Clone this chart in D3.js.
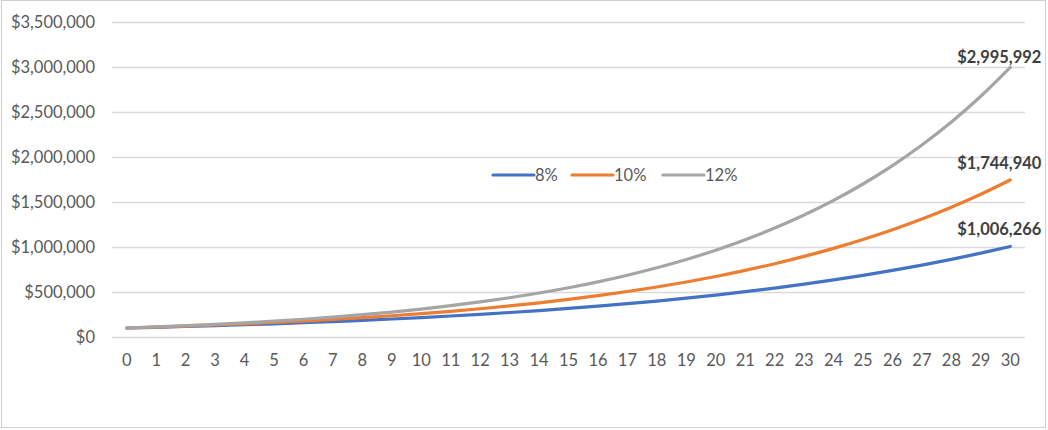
<!DOCTYPE html>
<html>
<head>
<meta charset="utf-8">
<script src="https://cdn.jsdelivr.net/npm/d3@7"></script>
<style>
  body { margin: 0; background: #fff; }
  svg { display: block; font-family: Lato, "Open Sans", sans-serif; }
</style>
</head>
<body>
<svg id="chart" width="1048" height="430"></svg>
<script>
// years on the category axis
var years = d3.range(0, 31);

// portfolio value per year
var growth8 = [100000, 108000, 116640, 125971, 136049, 146933, 158687, 171382, 185093, 199900,
  215892, 233164, 251817, 271962, 293719, 317217, 342594, 370002, 399602, 431570,
  466096, 503383, 543654, 587146, 634118, 684848, 739635, 798806, 862711, 931727, 1006266];
var growth10 = [100000, 110000, 121000, 133100, 146410, 161051, 177156, 194872, 214359, 235795,
  259374, 285312, 313843, 345227, 379750, 417725, 459497, 505447, 555992, 611591,
  672750, 740025, 814027, 895430, 984973, 1083471, 1191818, 1310999, 1442099, 1586309, 1744940];
var growth12 = [100000, 112000, 125440, 140493, 157352, 176234, 197382, 221068, 247596, 277308,
  310585, 347855, 389598, 436349, 488711, 547357, 613039, 686604, 768997, 861276,
  964629, 1080385, 1210031, 1355235, 1517863, 1700006, 1904007, 2132488, 2388387, 2674993, 2995992];

var seriesNames = ["8%", "10%", "12%"];
var seriesColors = ["#4472C4", "#ED7D31", "#A5A5A5"];
var yTicks = [0, 500000, 1000000, 1500000, 2000000, 2500000, 3000000, 3500000];

var series = [growth8, growth10, growth12].map(function(v, i) {
    return {name: seriesNames[i], color: seriesColors[i], values: v};
});

var svg = d3.select("#chart");
var W = 1048, H = 430;
var fontSize = "16.5px";

// outer chart border
svg.append("rect")
  .attr("x", 1.5).attr("y", 0.5)
  .attr("width", W - 4).attr("height", H - 3)
  .attr("fill", "#fff")
  .attr("stroke", "#D0D0D0");

var plot = {left: 112, right: 1025, top: 22, bottom: 337};

var x = d3.scaleBand()
  .domain(years)
  .range([plot.left, plot.right]);

var y = d3.scaleLinear()
  .domain([0, 3500000])
  .range([plot.bottom, plot.top]);

var fmt = d3.format("$,.0f");

// gridlines
svg.append("g").selectAll("line")
  .data(yTicks)
  .enter().append("line")
  .attr("x1", plot.left).attr("x2", plot.right)
  .attr("y1", function(d) { return Math.round(y(d)) + 0.5; })
  .attr("y2", function(d) { return Math.round(y(d)) + 0.5; })
  .attr("stroke", "#D9D9D9")
  .attr("stroke-width", 1.5);

// y axis labels
var yAxis = d3.axisLeft(y).tickValues(yTicks).tickFormat(fmt).tickSize(0).tickPadding(17);
var gy = svg.append("g")
  .attr("transform", "translate(" + plot.left + ",0)")
  .call(yAxis);
gy.select(".domain").remove();
gy.selectAll("text")
  .attr("fill", "#595959")
  .style("font-family", "Lato, sans-serif")
  .style("font-size", fontSize);

// x axis labels
var xAxis = d3.axisBottom(x).tickSize(0).tickPadding(17);
var gx = svg.append("g")
  .attr("transform", "translate(0," + plot.bottom + ")")
  .call(xAxis);
gx.select(".domain").remove();
gx.selectAll("text")
  .attr("fill", "#595959")
  .style("font-family", "Lato, sans-serif")
  .style("font-size", fontSize);

var line = d3.line()
  .x(function(d, i) { return x(years[i]) + x.bandwidth() / 2; })
  .y(function(d) { return y(d); })
  .curve(d3.curveMonotoneX);

svg.append("g").selectAll("path")
  .data(series)
  .enter().append("path")
  .attr("d", function(d) { return line(d.values); })
  .attr("fill", "none")
  .attr("stroke", function(d) { return d.color; })
  .attr("stroke-width", 3.2)
  .attr("stroke-linecap", "round");

// end labels
var last = years.length - 1;
svg.append("g").selectAll("text")
  .data(series)
  .enter().append("text")
  .attr("x", x(years[last]) + x.bandwidth() / 2 - 11)
  .attr("y", function(d) { return Math.max(y(d.values[last]) - 11, 63); })
  .attr("text-anchor", "middle")
  .attr("fill", "#404040")
  .style("font-size", fontSize)
  .style("font-weight", "bold")
  .text(function(d) { return fmt(d.values[last]); });

// legend
var legendX = [493, 572, 663];
var legend = svg.append("g").selectAll("g")
  .data(series)
  .enter().append("g")
  .attr("transform", function(d, i) { return "translate(" + legendX[i] + ",175)"; });
legend.append("line")
  .attr("x1", 0).attr("x2", 41)
  .attr("stroke", function(d) { return d.color; })
  .attr("stroke-width", 3.2)
  .attr("stroke-linecap", "round");
legend.append("text")
  .attr("x", 42)
  .attr("dy", "0.35em")
  .attr("fill", "#595959")
  .style("font-size", fontSize)
  .text(function(d) { return d.name; });
</script>
</body>
</html>
